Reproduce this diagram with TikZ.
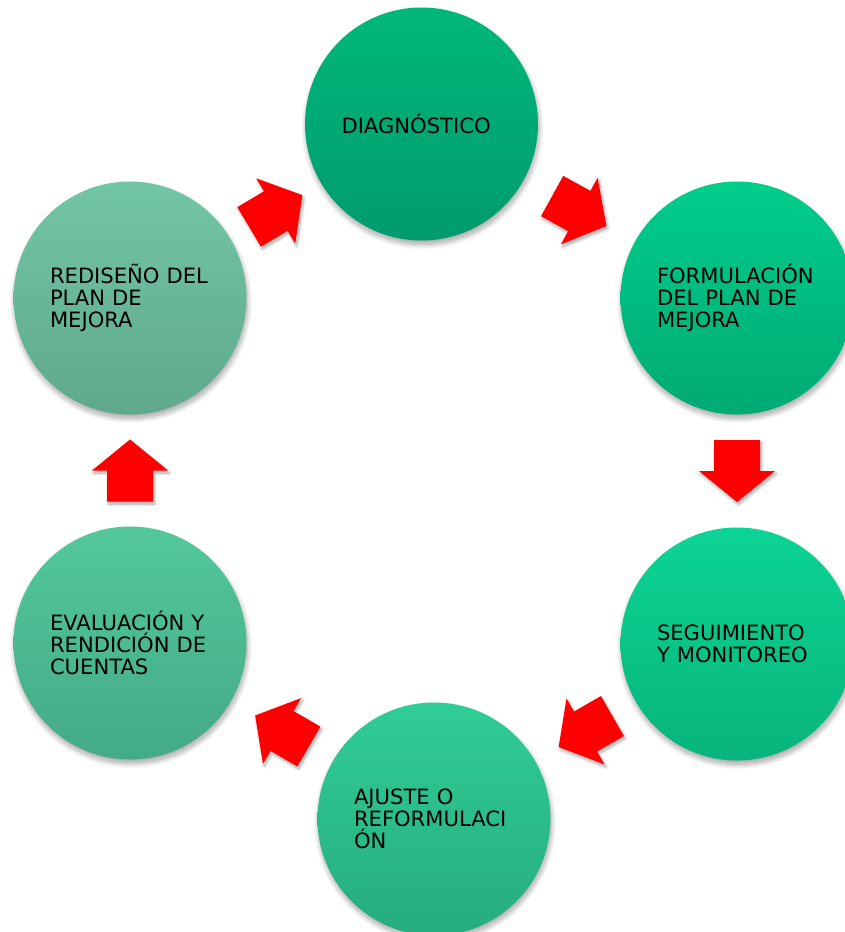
\documentclass[tikz,border=0pt]{standalone}
\usepackage{fontspec}
\setmainfont{DejaVu Sans}
\usetikzlibrary{calc, shadows.blur}
\definecolor{diagtop}{HTML}{00B77A}
\definecolor{diagbot}{HTML}{009B6E}
\definecolor{formtop}{HTML}{00CD8C}
\definecolor{formbot}{HTML}{00AA73}
\definecolor{seguitop}{HTML}{0CD494}
\definecolor{seguibot}{HTML}{08B47C}
\definecolor{ajustetop}{HTML}{30CD96}
\definecolor{ajustebot}{HTML}{26AC80}
\definecolor{evalutop}{HTML}{53C89B}
\definecolor{evalubot}{HTML}{44AA87}
\definecolor{redistop}{HTML}{72C6A5}
\definecolor{redisbot}{HTML}{5FA88C}
\tikzset{
  stage/.style={circle, minimum size=233pt, inner sep=0pt, text width=160pt, align=left,
    font=\fontsize{21.1}{22}\selectfont, text=black,
    blur shadow={shadow xshift=1pt, shadow yshift=-4pt, shadow opacity=35,
      shadow blur radius=5pt, shadow blur steps=12}},
  redarrow/.style={fill=red,
    blur shadow={shadow xshift=1.5pt, shadow yshift=-2.5pt, shadow opacity=35,
      shadow blur radius=3pt, shadow blur steps=8}}
}
% block arrow half way between two stages
\newcommand{\cyclearrow}[2]{%
  \pgfmathanglebetweenpoints{\pgfpointanchor{#1}{center}}{\pgfpointanchor{#2}{center}}%
  \edef\arrowangle{\pgfmathresult}%
  \path[redarrow, shift={($(#1)!0.5!(#2)$)}, rotate=\arrowangle]
    (-31,-23) -- (0,-23) -- (0,-38) -- (31,0) -- (0,38) -- (0,23) -- (-31,23) -- cycle;}

\begin{document}
\begin{tikzpicture}[x=1pt, y=1pt]
  \useasboundingbox (0,0) rectangle (845,-932);
  \clip (0,0) rectangle (845,-932);
  % stages of the cycle
  \foreach \name/\cx/\cy/\ctop/\cbot/\txt in {
      diag/421.5/-124/diagtop/diagbot/{DIAGNÓSTICO},
      form/737/-298/formtop/formbot/{FORMULACIÓN\\DEL~PLAN~DE\\MEJORA},
      segui/737/-644/seguitop/seguibot/{SEGUIMIENTO\\Y~MONITOREO},
      ajuste/434/-819/ajustetop/ajustebot/{AJUSTE~O\\REFORMULACI\\ÓN},
      evalu/130/-643/evalutop/evalubot/{EVALUACIÓN~Y\\RENDICIÓN~DE\\CUENTAS},
      redis/130/-298/redistop/redisbot/{REDISEÑO~DEL\\PLAN~DE\\MEJORA}} {
    \node[stage, top color=\ctop, bottom color=\cbot] (\name) at (\cx,\cy) {\txt};
  }
  % arrows
  \foreach \a/\b in {diag/form, form/segui, segui/ajuste, ajuste/evalu, evalu/redis, redis/diag}
    \cyclearrow{\a}{\b};
\end{tikzpicture}
\end{document}
